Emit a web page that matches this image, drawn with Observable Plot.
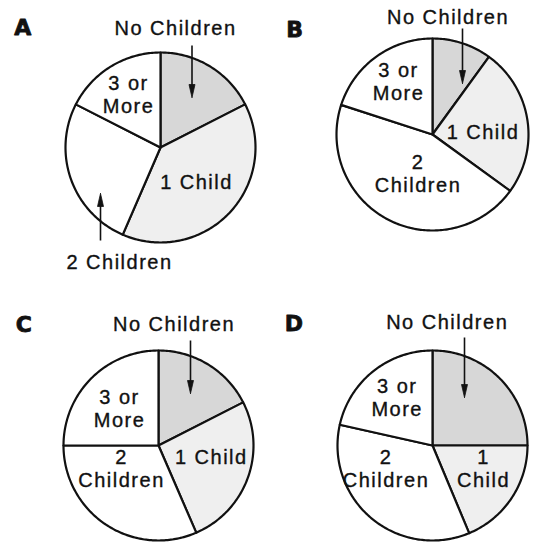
<!DOCTYPE html>
<html><head><meta charset="utf-8">
<script src="https://cdn.jsdelivr.net/npm/d3@7"></script>
<script src="https://cdn.jsdelivr.net/npm/@observablehq/plot@0.6"></script>
<style>
body{margin:0;background:#fff}
svg{display:block}
#chart text{letter-spacing:1.5px}
</style>
</head><body><div id="chart"></div>
<script>
// ---- data ----
const categories = ["No Children", "1 Child", "2 Children", "3 or More"];
const pieNames = ["A", "B", "C", "D"];
const valuesA = [17.5, 39, 26, 17.5];
const valuesB = [10, 25, 45, 20];
const valuesC = [17.5, 26, 31.5, 25];
const valuesD = [25, 18.7, 34.8, 21.5];
const labelsA = ["No Children", "1 Child", "2 Children", "3 or\nMore"];
const labelsB = ["No Children", "1 Child", "2\nChildren", "3 or\nMore"];
const labelsC = ["No Children", "1 Child", "2\nChildren", "3 or\nMore"];
const labelsD = ["No Children", "1\nChild", "2\nChildren", "3 or\nMore"];

// ---- layout (pixel space) ----
const layout = {
  A: {cx: 160, cy: 147, r: 95, letter: [-137, -120],
      label: [[15, -120], [36, 34], [-41, 114], [-32, -53]],
      arrows: [[31.5, -102, 31.5, -50], [-60, 93, -60, 46]]},
  B: {cx: 432, cy: 134, r: 96, letter: [-137, -105],
      label: [[15.5, -118], [50.5, -3], [-14.5, 38.5], [-34, -53.5]],
      arrows: [[30, -106, 30, -51]]},
  C: {cx: 158, cy: 445, r: 95, letter: [-134, -120.5],
      label: [[15.5, -122], [52.8, 11.7], [-37, 23], [-39, -37.5]],
      arrows: [[32, -105, 32, -52]]},
  D: {cx: 432, cy: 445, r: 95, letter: [-138, -122],
      label: [[14.7, -124], [51, 23], [-46.5, 23], [-35.3, -48]],
      arrows: [[32, -108, 32, -48]]}
};
const fills = {"No Children": "#d7d7d7", "1 Child": "#efefef", "2 Children": "#ffffff", "3 or More": "#ffffff"};
const head = {len: 13, half: 3};

const values = {A: valuesA, B: valuesB, C: valuesC, D: valuesD};
const labels = {A: labelsA, B: labelsB, C: labelsC, D: labelsD};

const slicePts = [];
const labelRows = [];
const letterRows = [];
const arrowRows = [];
const headPts = [];
for (const name of pieNames) {
  const L = layout[name];
  const arcs = d3.pie().sort(null).value(d => d.v)(values[name].map((v, i) => ({v, cat: categories[i]})));
  arcs.forEach((a, i) => {
    const key = name + i;
    const cat = a.data.cat;
    slicePts.push({key, cat, x: L.cx, y: L.cy});
    const n = Math.max(2, Math.ceil((a.endAngle - a.startAngle) / (Math.PI / 180)));
    for (let k = 0; k <= n; k++) {
      const t = a.startAngle + (a.endAngle - a.startAngle) * k / n;
      slicePts.push({key, cat, x: L.cx + L.r * Math.sin(t), y: L.cy - L.r * Math.cos(t)});
    }
    slicePts.push({key, cat, x: L.cx, y: L.cy});
    labelRows.push({text: labels[name][i], x: L.cx + L.label[i][0], y: L.cy + L.label[i][1]});
  });
  letterRows.push({text: name, x: L.cx + L.letter[0], y: L.cy + L.letter[1]});
  L.arrows.forEach((a, j) => {
    const x1 = L.cx + a[0], y1 = L.cy + a[1], x2 = L.cx + a[2], y2 = L.cy + a[3];
    const dir = Math.sign(y2 - y1);
    arrowRows.push({x1, y1, x2, y2: y2 - dir * head.len * 0.6});
    const k = name + "h" + j;
    headPts.push({k, x: x2, y: y2}, {k, x: x2 - head.half, y: y2 - dir * head.len},
                 {k, x: x2 + head.half, y: y2 - dir * head.len}, {k, x: x2, y: y2});
  });
}

const sliceMarks = categories.map(cat =>
  Plot.line(slicePts.filter(d => d.cat === cat), {
    x: "x", y: "y", z: "key", fill: fills[cat], stroke: "#111", strokeWidth: 2.2,
    strokeLinejoin: "round", curve: "linear"
  })
);

const chart = Plot.plot({
  width: 535, height: 542,
  margin: 0,
  x: {domain: [0, 535], range: [0, 535], axis: null},
  y: {domain: [0, 542], range: [0, 542], axis: null},
  style: {background: "#fff", fontFamily: "'Liberation Sans', Arial, sans-serif"},
  marks: [
    ...sliceMarks,
    Plot.link(arrowRows, {x1: "x1", y1: "y1", x2: "x2", y2: "y2", stroke: "#111", strokeWidth: 1.6}),
    Plot.line(headPts, {x: "x", y: "y", z: "k", fill: "#111", stroke: "#111", strokeWidth: 0.8, strokeLinejoin: "miter"}),
    Plot.text(labelRows, {x: "x", y: "y", text: "text", fontSize: 20, lineHeight: 1.13,
      fill: "#111", stroke: "#111", strokeWidth: 0.35, textAnchor: "middle", lineAnchor: "middle"}),
    Plot.text(letterRows, {x: "x", y: "y", text: "text", fontSize: 22, fontWeight: 900,
      fontFamily: "'DejaVu Sans', sans-serif", fill: "#111", stroke: "#111", strokeWidth: 0.8})
  ]
});
document.getElementById("chart").append(chart);
</script>
</body></html>
